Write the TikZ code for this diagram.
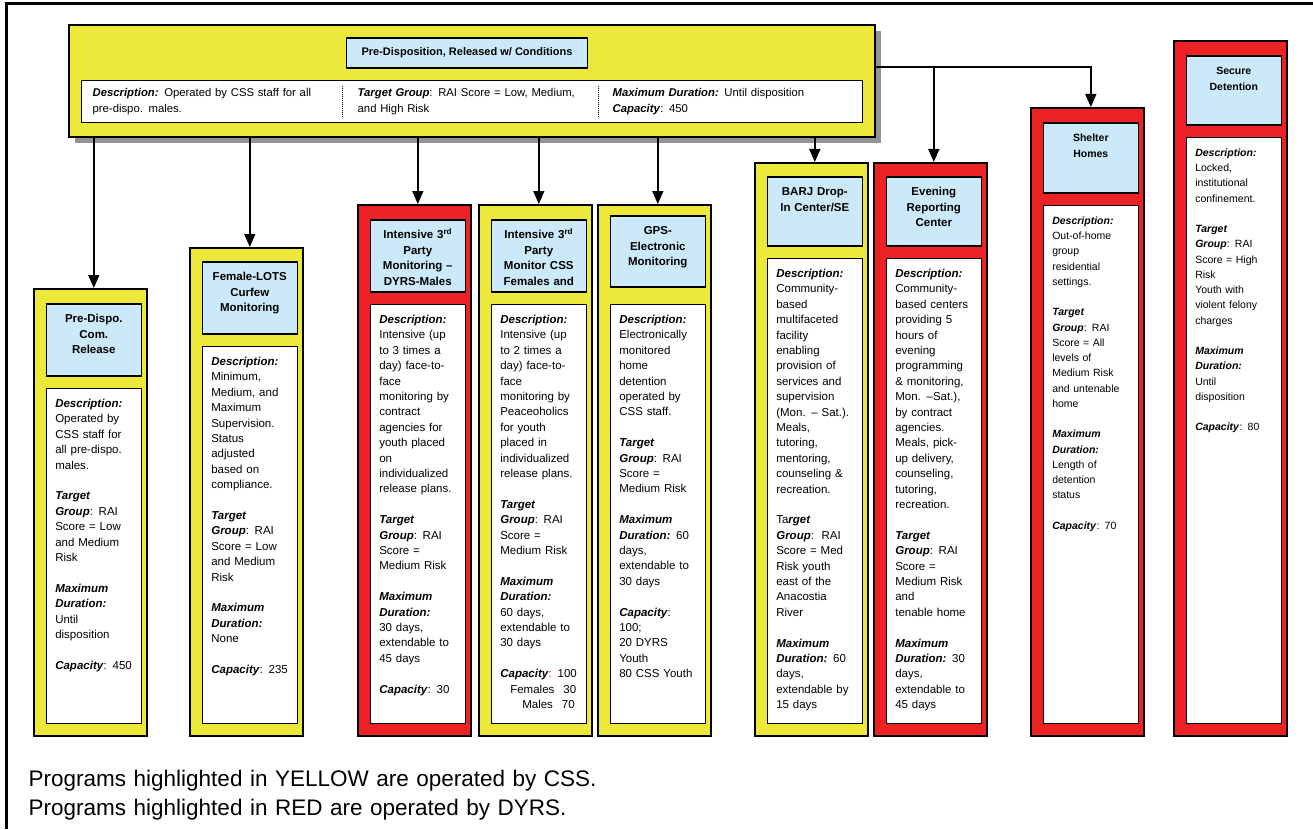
\documentclass[tikz,border=0pt]{standalone}
\usepackage{fontspec}
\setmainfont{Liberation Sans}
\usetikzlibrary{arrows.meta,positioning,shadows}
\definecolor{cssyellow}{RGB}{237,233,59}
\definecolor{dyrsred}{RGB}{237,34,36}
\definecolor{ttlblue}{RGB}{204,233,249}
\newcommand{\bfit}[1]{\textbf{\textit{#1}}}

\begin{document}
\begin{tikzpicture}[x=1pt, y=-1pt, >={Triangle[length=13pt, width=11pt]}, line width=1.4pt]
	\tikzstyle{progbox} = [draw, anchor=north west, inner sep=0pt, minimum width=113pt, line width=1.6pt, drop shadow={shadow xshift=1.5pt, shadow yshift=-1.5pt, fill=gray!70, opacity=1}];
	\tikzstyle{ttl} = [draw, fill=ttlblue, line width=1.6pt, text width=80pt, inner xsep=7.5pt, inner ysep=6pt, text height=13pt, align=center, font=\fontsize{11.5}{15.4}\selectfont\bfseries];
	\tikzstyle{ttlsm} = [ttl, font=\fontsize{10.5}{15.25}\selectfont\bfseries];
	\tikzstyle{body} = [draw, fill=white, line width=1.6pt, text width=77pt, inner xsep=9pt, inner ysep=6pt, text height=13pt, align=left, font=\fontsize{11.5}{15.4}\selectfont];
	\tikzstyle{bodysm} = [body, font=\fontsize{10.5}{15.25}\selectfont];
	\tikzstyle{striptxt} = [anchor=base west, align=left, text width=240pt, inner sep=0pt, font=\fontsize{11.3}{16}\selectfont];

	\useasboundingbox (0,0) rectangle (1313,829);
	\draw [line width=3pt] (6,829) -- (6,4) -- (1313,4);

	% top program
	\node [draw, fill=cssyellow, anchor=north west, inner sep=0pt, minimum width=806pt, minimum height=112pt, line width=1.8pt, drop shadow={shadow xshift=6pt, shadow yshift=-6pt, fill=gray!85, opacity=1}] (top) at (68,24) {};
	\node [draw, fill=ttlblue, minimum width=241pt, minimum height=30pt, line width=1.6pt, font=\fontsize{11}{13}\selectfont\bfseries] (topT) at (467,53) {Pre-Disposition, Released w/ Conditions};
	\node [draw, fill=white, anchor=north west, inner sep=0pt, minimum width=781pt, minimum height=42pt, line width=1pt] (strip) at (81,80) {};
	\node [striptxt] (stripA) at (92,97) {\bfit{Description:} Operated by CSS staff for all\\pre-dispo. males.};
	\node [striptxt] (stripB) at (357,97) {\bfit{Target Group}: RAI Score = Low, Medium,\\and High Risk};
	\node [striptxt] (stripC) at (612,97) {\bfit{Maximum Duration:} Until disposition\\\bfit{Capacity}: 450};
	\draw [densely dotted, line width=1pt] (342,86) -- (342,117);
	\draw [densely dotted, line width=1pt] (598,86) -- (598,117);

	% program columns
	\node [progbox, fill=cssyellow, minimum height=447pt] (pd) at (33,288) {};
	\node [ttl, text depth=47pt] (pdT) [below right = 15pt and 12.5pt of pd.north west] {Pre-Dispo.\\Com.\\Release};
	\node [body, text depth=310pt] (pdB) [below right = 11pt and 0pt of pdT.south west] {\bfit{Description:}\\ Operated by\\ CSS staff for\\ all pre-dispo.\\ males.\\[\baselineskip]
		\bfit{Target}\\ \bfit{Group}: RAI\\ Score = Low\\ and Medium\\ Risk\\[\baselineskip]
		\bfit{Maximum}\\ \bfit{Duration:}\\ Until\\ disposition\\[\baselineskip]
		\bfit{Capacity}: 450};

	\node [progbox, fill=cssyellow, minimum height=488pt] (lots) at (189,247) {};
	\node [ttl, text depth=47pt] (lotsT) [below right = 14pt and 12.5pt of lots.north west] {Female-LOTS\\Curfew\\Monitoring};
	\node [body, text depth=352pt] (lotsB) [below right = 11pt and 0pt of lotsT.south west] {\bfit{Description:}\\ Minimum,\\ Medium, and\\ Maximum\\ Supervision.\\ Status\\ adjusted\\ based on\\ compliance.\\[\baselineskip]
		\bfit{Target}\\ \bfit{Group}: RAI\\ Score = Low\\ and Medium\\ Risk\\[\baselineskip]
		\bfit{Maximum}\\ \bfit{Duration:}\\ None\\[\baselineskip]
		\bfit{Capacity}: 235};

	\node [progbox, fill=dyrsred, minimum height=531pt] (dyrs) at (357,204) {};
	\node [ttl, text depth=47pt] (dyrsT) [below right = 15pt and 12.5pt of dyrs.north west] {Intensive 3\textsuperscript{rd}\\Party\\Monitoring \textendash\\DYRS-Males};
	\node [body, text depth=394pt] (dyrsB) [below right = 11pt and 0pt of dyrsT.south west] {\bfit{Description:}\\ Intensive (up\\ to 3 times a\\ day) face-to-\\ face\\ monitoring by\\ contract\\ agencies for\\ youth placed\\ on\\ individualized\\ release plans.\\[\baselineskip]
		\bfit{Target}\\ \bfit{Group}: RAI\\ Score =\\ Medium Risk\\[\baselineskip]
		\bfit{Maximum}\\ \bfit{Duration:}\\ 30 days,\\ extendable to\\ 45 days\\[\baselineskip]
		\bfit{Capacity}: 30};

	\node [progbox, fill=cssyellow, minimum height=531pt] (cssf) at (478,204) {};
	\node [ttl, text depth=47pt] (cssfT) [below right = 15pt and 12.5pt of cssf.north west] {Intensive 3\textsuperscript{rd}\\Party\\Monitor CSS\\Females and};
	\node [body, text depth=394pt] (cssfB) [below right = 11pt and 0pt of cssfT.south west] {\bfit{Description:}\\ Intensive (up\\ to 2 times a\\ day) face-to-\\ face\\ monitoring by\\ Peaceoholics\\ for youth\\ placed in\\ individualized\\ release plans.\\[\baselineskip]
		\bfit{Target}\\ \bfit{Group}: RAI\\ Score =\\ Medium Risk\\[\baselineskip]
		\bfit{Maximum}\\ \bfit{Duration:}\\ 60 days,\\ extendable to\\ 30 days\\[\baselineskip]
		\bfit{Capacity}{\color{red}:} 100\\ \hspace*{10pt}Females\hspace{9pt}30\\ \hspace*{22pt}Males\hspace{9pt}70};

	\node [progbox, fill=cssyellow, minimum height=531pt] (gps) at (597,204) {};
	\node [ttl, text depth=46pt] (gpsT) [below right = 11pt and 12.5pt of gps.north west] {GPS-\\Electronic\\Monitoring};
	\node [body, text depth=394pt] (gpsB) [below right = 16pt and 0pt of gpsT.south west] {\bfit{Description:}\\ Electronically\\ monitored\\ home\\ detention\\ operated by\\ CSS staff.\\[\baselineskip]
		\bfit{Target}\\ \bfit{Group}: RAI\\ Score =\\ Medium Risk\\[\baselineskip]
		\bfit{Maximum}\\ \bfit{Duration:} 60\\ days,\\ extendable to\\ 30 days\\[\baselineskip]
		\bfit{Capacity}:\\ 100;\\ 20 DYRS\\ Youth\\ 80 CSS Youth};

	\node [progbox, fill=cssyellow, minimum height=573pt] (barj) at (754,162) {};
	\node [ttl, text depth=44pt] (barjT) [below right = 14pt and 12.5pt of barj.north west] {BARJ Drop-\\In Center/SE};
	\node [body, text depth=440pt] (barjB) [below right = 11pt and 0pt of barjT.south west] {\bfit{Description:}\\ Community-\\ based\\ multifaceted\\ facility\\ enabling\\ provision of\\ services and\\ supervision\\ (Mon. \textendash\ Sat.).\\ Meals,\\ tutoring,\\ mentoring,\\ counseling \&\\ recreation.\\[\baselineskip]
		Ta\bfit{rget}\\ \bfit{Group}:\ \ RAI\\ Score = Med\\ Risk youth\\ east of the\\ Anacostia\\ River\\[\baselineskip]
		\bfit{Maximum}\\ \bfit{Duration:} 60\\ days,\\ extendable by\\ 15 days};

	\node [progbox, fill=dyrsred, minimum height=573pt] (erc) at (873,162) {};
	\node [ttl, text depth=44pt] (ercT) [below right = 14pt and 12.5pt of erc.north west] {Evening\\Reporting\\Center};
	\node [body, text depth=440pt] (ercB) [below right = 11pt and 0pt of ercT.south west] {\bfit{Description:}\\ Community-\\ based centers\\ providing 5\\ hours of\\ evening\\ programming\\ \& monitoring,\\ Mon. \textendash Sat.),\\ by contract\\ agencies.\\ Meals, pick-\\ up delivery,\\ counseling,\\ tutoring,\\ recreation.\\[\baselineskip]
		\bfit{Target}\\ \bfit{Group}: RAI\\ Score =\\ Medium Risk\\ and\\ tenable home\\[\baselineskip]
		\bfit{Maximum}\\ \bfit{Duration:} 30\\ days,\\ extendable to\\ 45 days};

	\node [progbox, fill=dyrsred, minimum height=628pt] (sh) at (1030,107) {};
	\node [ttlsm, text depth=45pt] (shT) [below right = 15pt and 12.5pt of sh.north west] {Shelter\\Homes};
	\node [bodysm, text depth=493pt] (shB) [below right = 11pt and 0pt of shT.south west] {\bfit{Description:}\\ Out-of-home\\ group\\ residential\\ settings.\\[\baselineskip]
		\bfit{Target}\\ \bfit{Group}: RAI\\ Score = All\\ levels of\\ Medium Risk\\ and untenable\\ home\\[\baselineskip]
		\bfit{Maximum}\\ \bfit{Duration:}\\ Length of\\ detention\\ status\\[\baselineskip]
		\bfit{Capacity}: 70};

	\node [progbox, fill=dyrsred, minimum height=695pt] (sec) at (1173,40) {};
	\node [ttlsm, text depth=44pt] (secT) [below right = 15pt and 12.5pt of sec.north west] {Secure\\Detention};
	\node [bodysm, text depth=561pt] (secB) [below right = 11pt and 0pt of secT.south west] {\bfit{Description:}\\ Locked,\\ institutional\\ confinement.\\[\baselineskip]
		\bfit{Target}\\ \bfit{Group}: RAI\\ Score = High\\ Risk\\ Youth with\\ violent felony\\ charges\\[\baselineskip]
		\bfit{Maximum}\\ \bfit{Duration:}\\ Until\\ disposition\\[\baselineskip]
		\bfit{Capacity}: 80};

	% connectors
	\path [->] (top.south -| pdT.north) edge (pdT.north |- pd.north)
		(top.south -| lotsT.north) edge (lotsT.north |- lots.north)
		(top.south -| dyrsT.north) edge (dyrsT.north |- dyrs.north)
		(top.south -| cssfT.north) edge (cssfT.north |- cssf.north)
		(top.south -| gpsT.north) edge (gpsT.north |- gps.north)
		(top.south -| barjT.north) edge (barjT.north |- barj.north);
	\coordinate (jct) at ([yshift=14pt]top.east);
	\draw [->] (jct) -| (shT.north |- sh.north);
	\draw [->] (jct -| ercT.north) -- (ercT.north |- erc.north);

	% legend
	\node [anchor=base west, align=left, text width=800pt, inner sep=0pt, font=\fontsize{22.5}{29}\selectfont] (legend) at (28,786) {Programs highlighted in YELLOW are operated by CSS.\\Programs highlighted in RED are operated by DYRS.};
\end{tikzpicture}
\end{document}
